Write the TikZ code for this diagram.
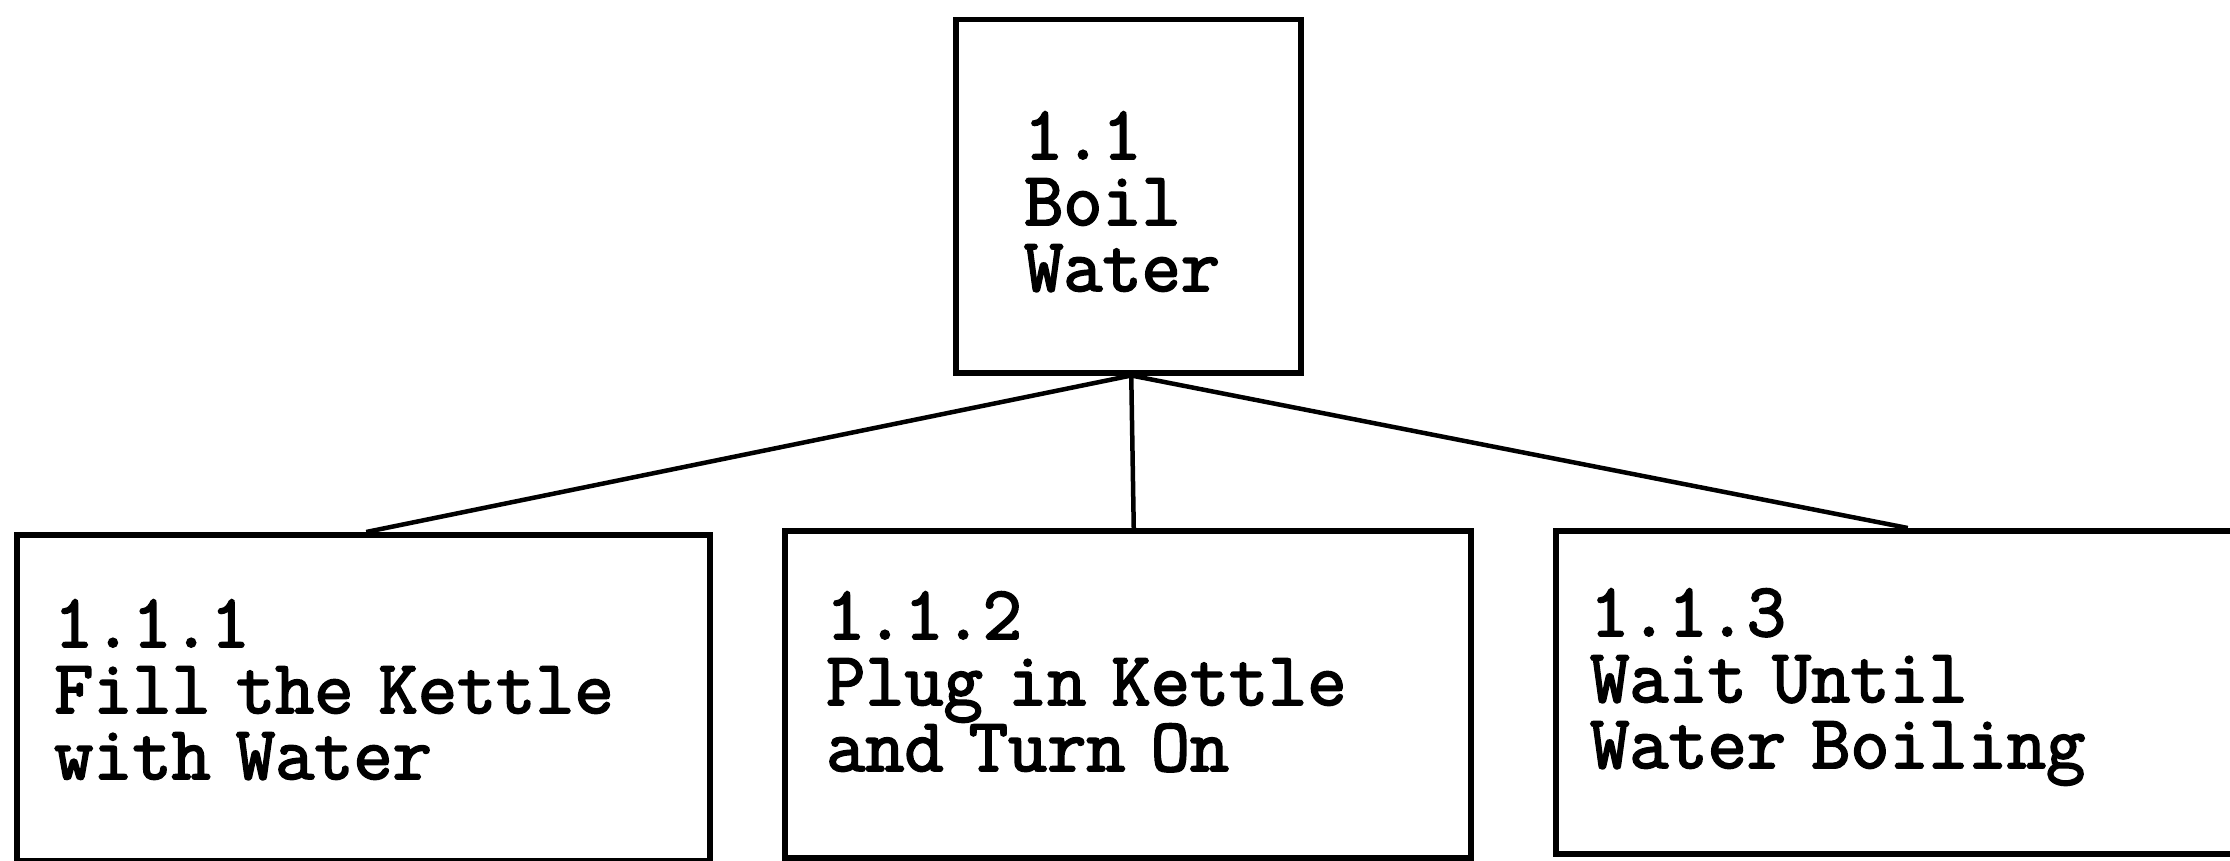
\documentclass[tikz,border=0pt]{standalone}
\usepackage{fontspec}
\newfontfamily\boxmono[AutoFakeBold=2.5]{Latin Modern Mono}
\newcommand\boxtextfont{\boxmono\bfseries\fontsize{76}{66}\selectfont}
\begin{document}
\begin{tikzpicture}[x=1pt,y=-1pt,
  box/.style={draw=black, line width=5.5pt, rectangle, inner sep=0pt, anchor=north west},
  lbl/.style={anchor=base west, inner sep=0pt, align=left, text width=700pt,
    font=\boxtextfont},
  link/.style={draw=black, line width=4.5pt}]
\useasboundingbox (0,0) rectangle (2230,861);
\fill[white] (0,0) rectangle (2230,861);
% boxes
\node[box, minimum width=345pt, minimum height=353pt] (top) at (953,17) {};
\node[box, minimum width=693pt, minimum height=326pt] (b1) at (14,532) {};
\node[box, minimum width=686pt, minimum height=327pt] (b2) at (782,528) {};
\node[box, minimum width=700pt, minimum height=323pt] (b3) at (1553,528) {};
% texts
\node[lbl] (ttop) at (1024,159) {1.1\\Boil\\Water};
\node[lbl] (t1) at (54,647) {1.1.1\\Fill the Kettle\\with Water};
\node[lbl] (t2) at (826,639) {1.1.2\\Plug in Kettle\\and Turn On};
\node[lbl] (t3) at (1590,636) {1.1.3\\Wait Until\\Water Boiling};
% connectors
\coordinate (o) at ([xshift=3pt]top.south);
\coordinate (e1) at ([xshift=3pt]b1.north);
\coordinate (e2) at ([xshift=6pt]b2.north);
\coordinate (e3) at ([xshift=2pt]b3.north);
\draw[link] (o) -- (e1);
\draw[link] (o) -- (e2);
\draw[link] (o) -- (e3);
\end{tikzpicture}
\end{document}
